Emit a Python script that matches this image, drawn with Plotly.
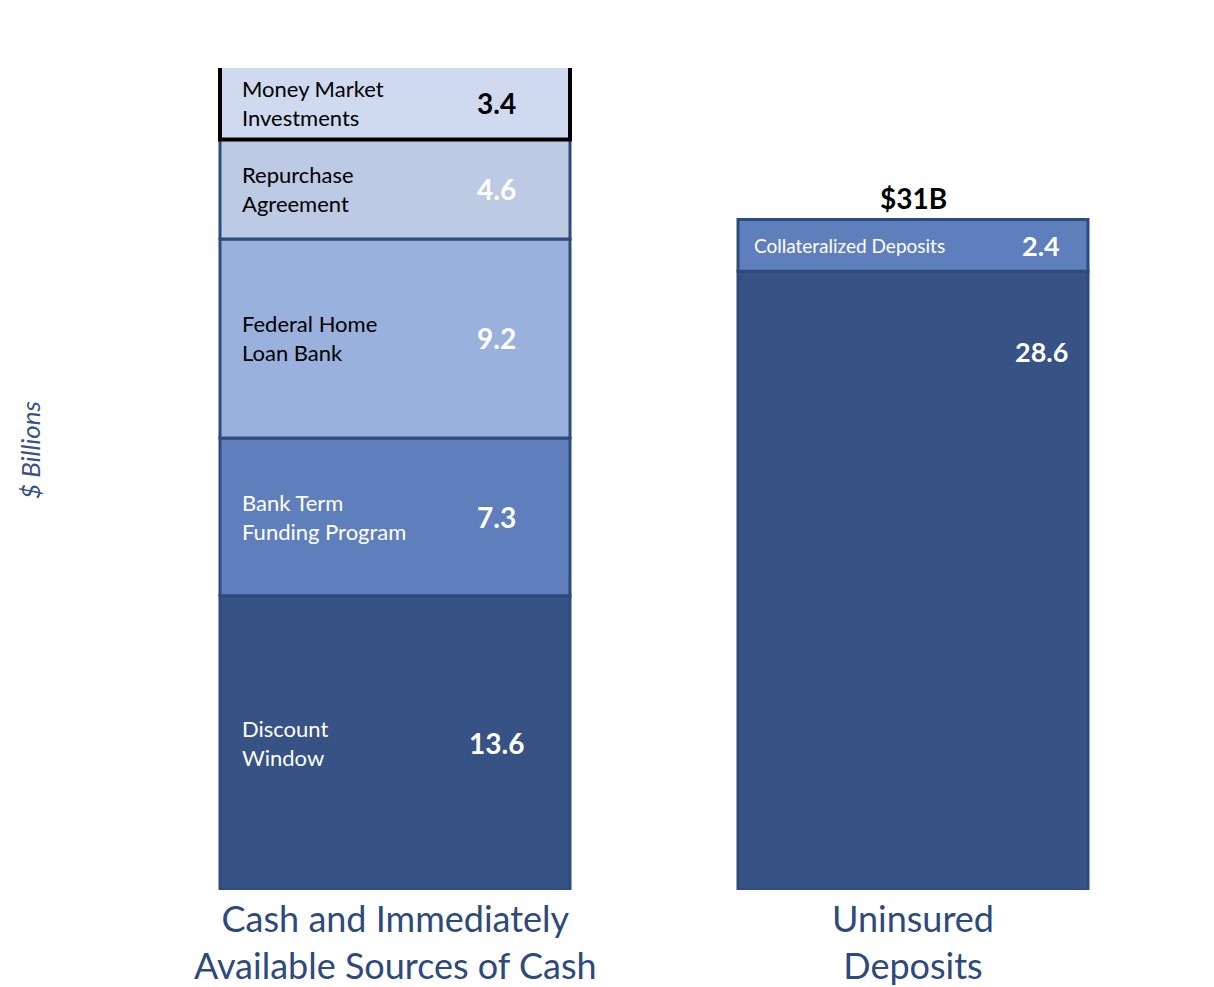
import plotly.graph_objects as go

cash_labels = ["Discount<br>Window", "Bank Term<br>Funding Program", "Federal Home<br>Loan Bank", "Repurchase<br>Agreement", "Money Market<br>Investments"]
cash_values = [13.6, 7.3, 9.2, 4.6, 3.4]
cash_colors = ["#375284", "#5f7fbc", "#9ab1de", "#bccae3", "#cfdaf0"]
cash_value_colors = ["white", "white", "white", "white", "black"]
cash_label_colors = ["white", "white", "black", "black", "black"]
dep_labels = ["", "Collateralized Deposits"]
dep_values = [28.6, 2.4]
dep_colors = ["#375284", "#5f7fbc"]
categories = ["Cash and Immediately<br>Available Sources of Cash", "Uninsured<br>Deposits"]
totals = ["$38B", "$31B"]
xpos = [387, 905]

FONT = "Lato"
fig = go.Figure()
anns = []

def add_stack(xc, labels, values, colors, label_colors, value_colors, label_x, value_x, lsize, vsize, special_top=False):
    base = 0
    for i, (lab, v, c) in enumerate(zip(labels, values, colors)):
        is_top = special_top and i == len(values) - 1
        fig.add_trace(go.Bar(x=[xc], y=[v], base=[base], width=[350], marker_color=c,
                             marker_line_color="black" if is_top else "#2f4b7c",
                             marker_line_width=4 if is_top else 3, showlegend=False, hoverinfo="skip"))
        mid = base + v / 2
        if i == 0 and len(values) == 2:
            mid = base + v * 0.87
        if lab:
            anns.append(dict(x=label_x, y=base + v / 2, xref="x", yref="y", text=lab, showarrow=False,
                             xanchor="left", align="left", font=dict(family=FONT, size=lsize, color=label_colors[i])))
        anns.append(dict(x=value_x, y=mid, xref="x", yref="y", text=f"<b>{v}</b>", showarrow=False,
                         font=dict(family=FONT, size=vsize, color=value_colors[i])))
        base += v
    return base

t1 = add_stack(xpos[0], cash_labels, cash_values, cash_colors, cash_label_colors, cash_value_colors, 232, 488, 22, 28, True)
t2 = add_stack(xpos[1], dep_labels, dep_values, dep_colors, ["white", "white"], ["white", "white"], 744, 1033, 19, 27)

for xc, tot, t in zip(xpos, totals, [t1, t2]):
    anns.append(dict(x=xc, y=t, xref="x", yref="y", text=f"<b>{tot}</b>", showarrow=False, yanchor="bottom", yshift=2,
                     font=dict(family=FONT, size=28, color="black")))
for xc, cat in zip(xpos, categories):
    anns.append(dict(x=xc, y=0, xref="x", yref="y", text=cat, showarrow=False, yanchor="top", yshift=-4,
                     font=dict(family=FONT, size=36, color="#2e4a7d")))
anns.append(dict(x=22, y=442, xref="x", yref="paper", text="<i>$ Billions</i>", showarrow=False, textangle=-90,
                 font=dict(family=FONT, size=26, color="#375284")))
anns[-1]["y"] = (987 - 105 - 442) / 822

fig.update_layout(width=1214, height=987, margin=dict(l=0, r=0, t=60, b=105), plot_bgcolor="white",
                  paper_bgcolor="white", barmode="overlay", annotations=anns,
                  xaxis=dict(range=[0, 1214], visible=False), yaxis=dict(range=[0, 38], visible=False))
fig.write_html("out.html")
